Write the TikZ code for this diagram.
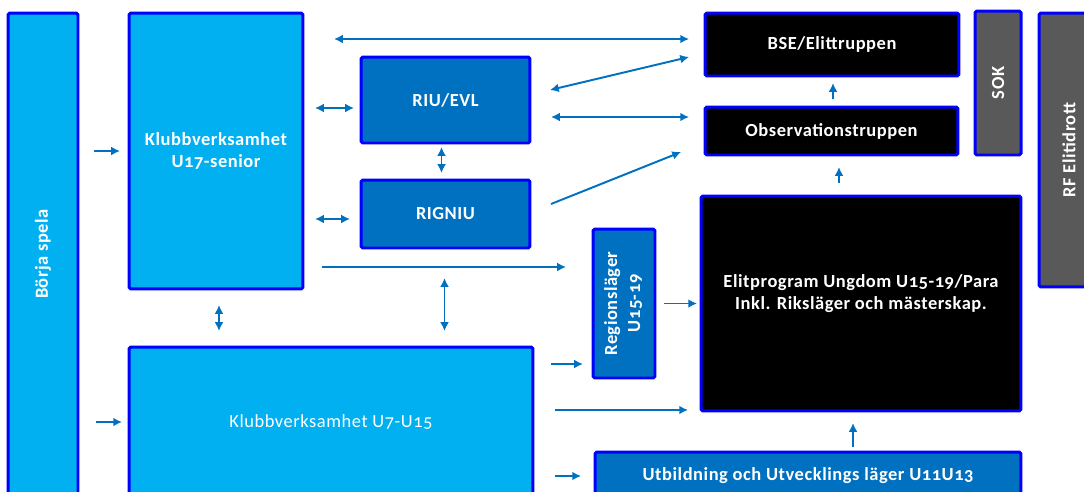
\documentclass[tikz,border=0pt]{standalone}
\usepackage{fontspec}
\setmainfont{Carlito}[Numbers=OldStyle, LetterSpace=3]
\usetikzlibrary{positioning, arrows.meta, calc}
\definecolor{klubbblue}{HTML}{00B0F0}
\definecolor{regionblue}{HTML}{0070C0}
\definecolor{edgeblue}{HTML}{0000FF}
\definecolor{rfgray}{HTML}{595959}
\tikzset{x=0.02cm, y=-0.02cm, % one unit is one pixel of the slide
every node/.style={ % white text in every box
font=\fontsize{10.5}{13}\selectfont\bfseries,
text=white, align=center},
box/.style={ % Sets the frame of each box
draw=edgeblue, line width=1.7pt,
rounded corners=1pt, inner sep=0pt, outer sep=0pt},
klubb/.style={box, fill=klubbblue},
region/.style={box, fill=regionblue},
elit/.style={box, fill=black},
rf/.style={box, fill=rfgray},
flow/.style={ % Sets the properties for each arrow
draw=regionblue, line width=1.1pt,
-{Latex[length=5pt,width=5pt]}},
both/.style={flow, {Latex[length=5pt,width=5pt]}-{Latex[length=5pt,width=5pt]}}}

\begin{document}
\begin{tikzpicture}
    \useasboundingbox (0,0) rectangle (1084,491);

    \node[klubb, minimum width=1.40cm, minimum height=9.64cm] (borja) at (43,254) {\rotatebox{90}{Börja spela}};
    \node[klubb, minimum width=3.48cm, minimum height=5.52cm] (u17) at (216,151) {Klubbverksamhet\\U17-senior};
    \node[klubb, minimum width=8.08cm, minimum height=3.00cm] (u7) at (331,422) {\mdseries Klubbverksamhet U7-U15};
    \node[region, minimum width=3.38cm, minimum height=1.72cm] (riu) at (445.5,100) {RIU/EVL};
    \node[region, minimum width=3.38cm, minimum height=1.36cm] (rig) at (445.5,214) {RIGNIU};
    \node[region, minimum width=1.24cm, minimum height=2.98cm] (reg) at (624,303.5) {\rotatebox{90}{\begin{tabular}{@{}c@{}}Regionsläger\\U15-19\end{tabular}}};
    \node[elit, minimum width=5.08cm, minimum height=1.26cm] (bse) at (832,44.5) {BSE/Elittruppen};
    \node[elit, minimum width=5.06cm, minimum height=0.96cm] (obs) at (831.5,131) {Observationstruppen};
    \node[elit, minimum width=6.40cm, minimum height=4.30cm] (elit) at (861,303.5) {Elitprogram Ungdom U15-19/Para\\Inkl. Riksläger och mästerskap.\\ \mbox{}};
    \node[region, minimum width=8.52cm, minimum height=0.96cm] (utb) at (808,476) {Utbildning och Utvecklings läger U11U13};
    \node[rf, minimum width=0.92cm, minimum height=2.88cm] (sok) at (998,83) {\rotatebox{90}{SOK}};
    \node[rf, minimum width=1.20cm, minimum height=5.48cm] (rf) at (1069,150) {\rotatebox{90}{RF Elitidrott}};

    % into the clubs
    \draw[flow] ($(borja.east|-u17.west)+(16,0)$) -- ($(u17.west)+(-9,0)$);
    \draw[flow] ($(borja.east|-u7.west)+(18,0)$) -- ($(u7.west)+(-7,0)$);
    \draw[both] ($(u17.south)+(3,16)$) -- ($(u17.south|-u7.north)+(3,-16)$);
    \draw[both] ($(rig.south)+(-1,30)$) -- ($(rig.south|-u7.north)+(-1,-16)$);

    % regional level
    \draw[both] ($(u17.east|-riu.west)+(12,8)$) -- ($(riu.west)+(-7,8)$);
    \draw[both] ($(u17.east|-rig.west)+(12,5)$) -- ($(rig.west)+(-11,5)$);
    \draw[both] ($(riu.south)+(-4,4)$) -- ($(rig.north)+(-4,-7)$);
    \draw[flow] ($(u17.east|-reg.west)+(19,-36.5)$) -- ($(reg.west)+(-27,-36.5)$);
    \draw[flow] ($(u7.east|-reg.south)+(18,-14)$) -- ($(reg.south west)+(-10,-14)$);
    \draw[flow] ($(u7.east|-utb.west)+(22,0)$) -- ($(utb.west)+(-14,0)$);

    % elite level
    \draw[both] ($(u17.east|-bse.west)+(31,-5.5)$) -- ($(bse.west)+(-16,-5.5)$);
    \draw[both] ($(riu.east)+(20,-10)$) -- ($(bse.west)+(-16,12.5)$);
    \draw[both] ($(riu.east|-obs.west)+(21,-14)$) -- ($(obs.west)+(-16,-14)$);
    \draw[flow] ($(rig.east)+(21,-10)$) -- ($(obs.west)+(-24,21)$);
    \draw[flow] ($(reg.east)+(9,0)$) -- ($(elit.west|-reg.east)+(-4,0)$);
    \draw[flow] ($(u7.east|-elit.south)+(22,-1)$) -- ($(elit.south west)+(-13,-1)$);
    \draw[flow] ($(utb.north-|elit.south)+(-8,-5)$) -- ($(elit.south)+(-8,12)$);
    \draw[flow] ($(obs.south|-elit.north)+(7.5,-13)$) -- ($(obs.south)+(7.5,12)$);
    \draw[flow] ($(obs.north)+(1.5,-8)$) -- ($(bse.south)+(1,7)$);

\end{tikzpicture}
\end{document}
